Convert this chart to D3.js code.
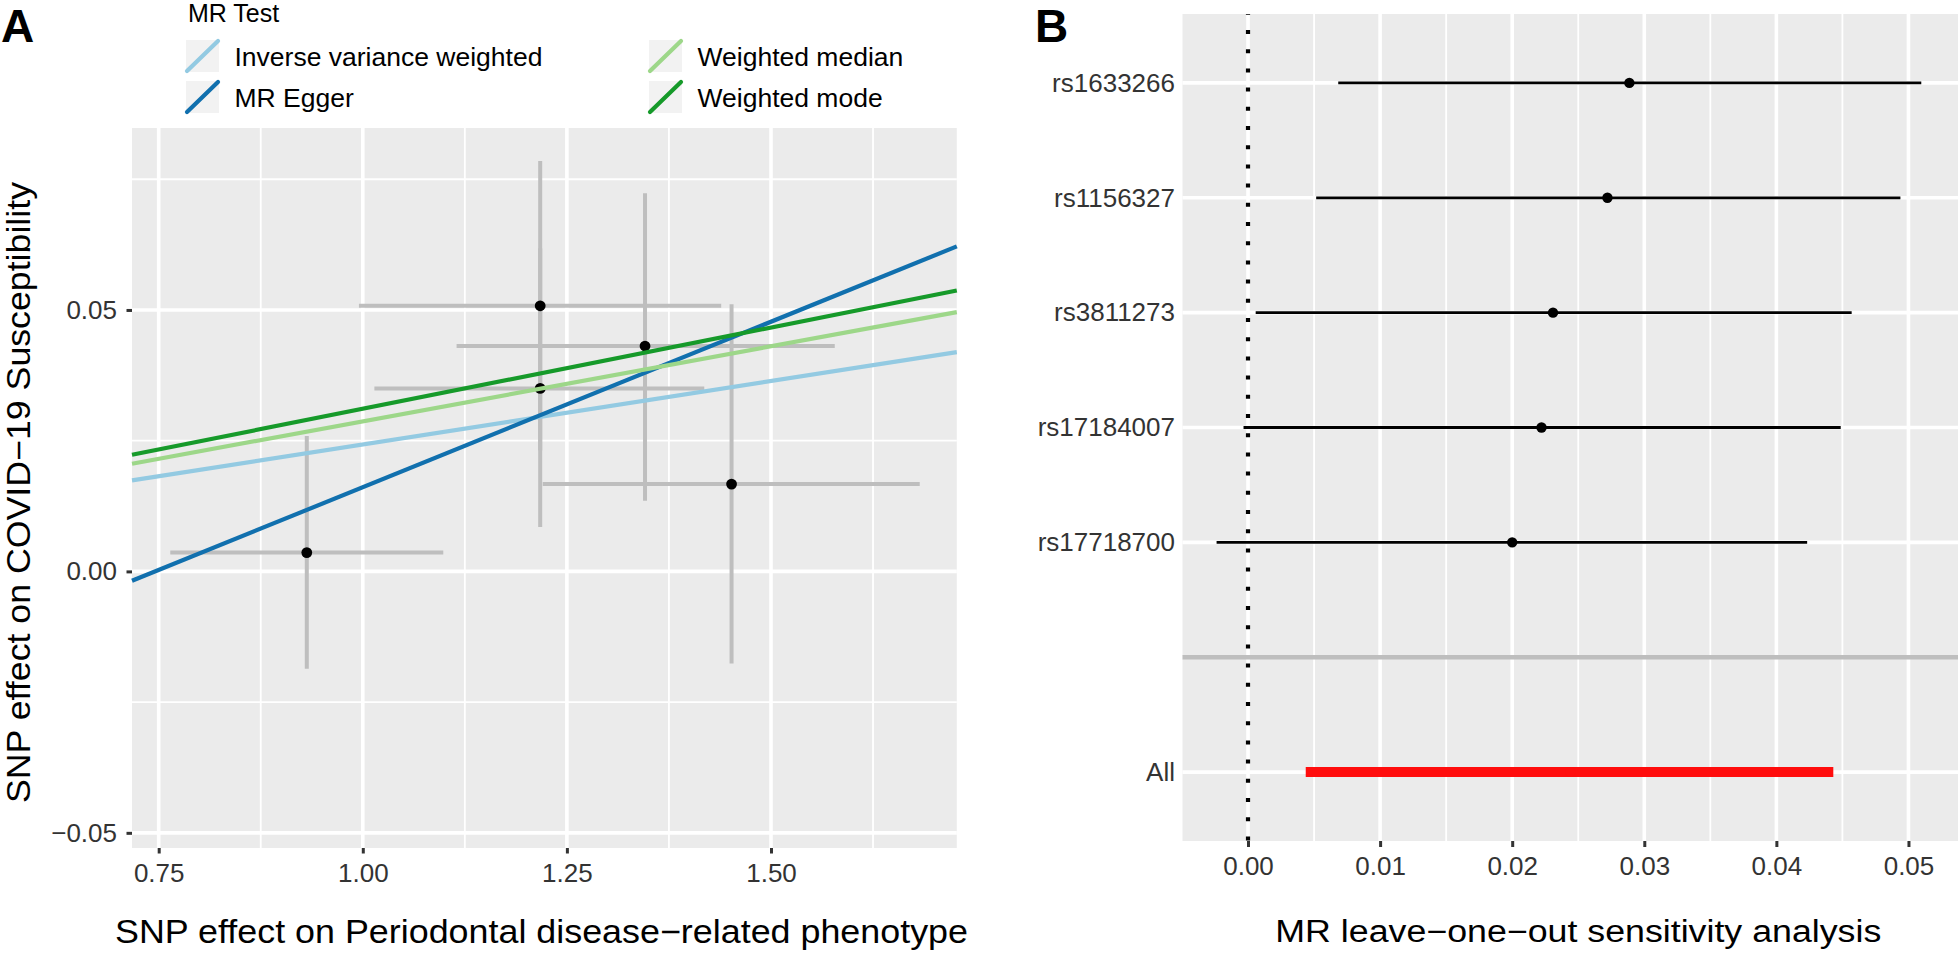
<!DOCTYPE html>
<html>
<head>
<meta charset="utf-8">
<script src="https://cdn.jsdelivr.net/npm/d3@7"></script>
<style>
  html, body { margin: 0; padding: 0; background: #ffffff; }
  svg { display: block; font-family: "Liberation Sans", Arial, Helvetica, sans-serif; }
</style>
</head>
<body>
<svg id="chart" width="1958" height="954"></svg>
<script>
// ---------------- Panel A data (MR scatter) ----------------
const snpBx     = [0.9314, 1.2173, 1.2173, 1.3457, 1.4517];
const snpBxLo   = [0.7642, 0.9953, 1.0142, 1.1149, 1.2204];
const snpBxHi   = [1.0986, 1.4390, 1.4183, 1.5781, 1.6822];
const snpBy     = [0.0036, 0.0508, 0.0350, 0.0431, 0.0167];
const snpByLo   = [-0.0186, 0.0231, 0.0085, 0.0135, -0.0176];
const snpByHi   = [0.0259, 0.0785, 0.0618, 0.0723, 0.0511];

const methods    = ["Inverse variance weighted", "MR Egger", "Weighted median", "Weighted mode"];
const slopes     = [0.02428, 0.0633, 0.0287, 0.0311];
const intercepts = [0, -0.0472, 0, 0];
const methodColors = ["#93cae2", "#1170ae", "#9dd789", "#169a2a"];

const xTicksA = [0.75, 1.00, 1.25, 1.50];
const xTickLabelsA = ["0.75", "1.00", "1.25", "1.50"];
const xMinorA = [0.875, 1.125, 1.375, 1.625];
const yTicksA = [-0.05, 0.00, 0.05];
const yTickLabelsA = ["\u22120.05", "0.00", "0.05"];
const yMinorA = [-0.025, 0.025, 0.075];

// ---------------- Panel B data (leave-one-out) ----------------
const looSnps = ["rs1633266", "rs1156327", "rs3811273", "rs17184007", "rs17718700", "", "All"];
const looB    = [0.02887, 0.02721, 0.02309, 0.02222, 0.02000, null, 0.02440];
const looLo   = [0.00683, 0.00516, 0.00058, -0.00034, -0.00238, null, 0.00437];
const looHi   = [0.05097, 0.04939, 0.04570, 0.04487, 0.04233, null, 0.04431];

const xTicksB = [0.00, 0.01, 0.02, 0.03, 0.04, 0.05];
const xTickLabelsB = ["0.00", "0.01", "0.02", "0.03", "0.04", "0.05"];
const xMinorB = [0.005, 0.015, 0.025, 0.035, 0.045];

// ---------------- Drawing ----------------
const svg = d3.select("#chart");
svg.append("rect").attr("width", 1958).attr("height", 954).attr("fill", "#ffffff");

const PANEL_BG = "#ebebeb";
const GRID = "#ffffff";

// ===== Panel A =====
const A = { left: 132, right: 956.8, top: 128, bottom: 848 };
const xA = d3.scaleLinear().domain([0.7173, 1.7276]).range([A.left, A.right]);
const yA = d3.scaleLinear().domain([-0.0529, 0.0848]).range([A.bottom, A.top]);

const gA = svg.append("g");
gA.append("rect").attr("x", A.left).attr("y", A.top)
  .attr("width", A.right - A.left).attr("height", A.bottom - A.top).attr("fill", PANEL_BG);

gA.selectAll(".xminA").data(xMinorA).enter().append("line")
  .attr("x1", d => xA(d)).attr("x2", d => xA(d)).attr("y1", A.top).attr("y2", A.bottom)
  .attr("stroke", GRID).attr("stroke-width", 1.8);
gA.selectAll(".yminA").data(yMinorA).enter().append("line")
  .attr("x1", A.left).attr("x2", A.right).attr("y1", d => yA(d)).attr("y2", d => yA(d))
  .attr("stroke", GRID).attr("stroke-width", 1.8);
gA.selectAll(".xmajA").data(xTicksA).enter().append("line")
  .attr("x1", d => xA(d)).attr("x2", d => xA(d)).attr("y1", A.top).attr("y2", A.bottom)
  .attr("stroke", GRID).attr("stroke-width", 3.6);
gA.selectAll(".ymajA").data(yTicksA).enter().append("line")
  .attr("x1", A.left).attr("x2", A.right).attr("y1", d => yA(d)).attr("y2", d => yA(d))
  .attr("stroke", GRID).attr("stroke-width", 3.6);

const idx = d3.range(snpBx.length);
// vertical error bars
gA.selectAll(".ebv").data(idx).enter().append("line")
  .attr("x1", i => xA(snpBx[i])).attr("x2", i => xA(snpBx[i]))
  .attr("y1", i => yA(snpByLo[i])).attr("y2", i => yA(snpByHi[i]))
  .attr("stroke", "#bebebe").attr("stroke-width", 4);
// horizontal error bars
gA.selectAll(".ebh").data(idx).enter().append("line")
  .attr("x1", i => xA(snpBxLo[i])).attr("x2", i => xA(snpBxHi[i]))
  .attr("y1", i => yA(snpBy[i])).attr("y2", i => yA(snpBy[i]))
  .attr("stroke", "#bebebe").attr("stroke-width", 4);
// points
gA.selectAll(".ptA").data(idx).enter().append("circle")
  .attr("cx", i => xA(snpBx[i])).attr("cy", i => yA(snpBy[i])).attr("r", 5.4)
  .attr("fill", "#000000");
// MR lines
const xd = xA.domain();
gA.selectAll(".mrline").data(d3.range(methods.length)).enter().append("line")
  .attr("x1", xA(xd[0])).attr("x2", xA(xd[1]))
  .attr("y1", i => yA(intercepts[i] + slopes[i] * xd[0]))
  .attr("y2", i => yA(intercepts[i] + slopes[i] * xd[1]))
  .attr("stroke", i => methodColors[i]).attr("stroke-width", 4.2);

// axes A
const axA_x = d3.axisBottom(xA).tickValues(xTicksA).tickFormat((d, i) => xTickLabelsA[i])
  .tickSize(5.5).tickPadding(10);
const gAx = gA.append("g").attr("transform", `translate(0,${A.bottom})`).call(axA_x);
const axA_y = d3.axisLeft(yA).tickValues(yTicksA).tickFormat((d, i) => yTickLabelsA[i])
  .tickSize(5.5).tickPadding(9.5);
const gAy = gA.append("g").attr("transform", `translate(${A.left},0)`).call(axA_y);

[gAx, gAy].forEach(g => {
  g.select(".domain").remove();
  g.selectAll(".tick line").attr("stroke", "#333333").attr("stroke-width", 3);
  g.selectAll(".tick text").attr("fill", "#333333").style("font-size", "26px")
    .style("font-family", '"Liberation Sans", Arial, sans-serif');
});

// axis titles A
svg.append("text").attr("x", 541.5).attr("y", 943).attr("text-anchor", "middle")
  .style("font-size", "33px").attr("fill", "#000")
  .attr("textLength", 853).attr("lengthAdjust", "spacingAndGlyphs")
  .text("SNP effect on Periodontal disease\u2212related phenotype");
svg.append("text").attr("transform", "translate(29.5,492.5) rotate(-90)")
  .attr("text-anchor", "middle").style("font-size", "33px").attr("fill", "#000")
  .attr("textLength", 621).attr("lengthAdjust", "spacingAndGlyphs")
  .text("SNP effect on COVID\u221219 Susceptibility");

// legend A
const lg = svg.append("g");
lg.append("text").attr("x", 188).attr("y", 22).style("font-size", "25px").attr("fill", "#000").text("MR Test");
const legendCols = [186, 649];
const legendRows = [40, 81];
const keyW = 33, keyH = 32;
methods.forEach((m, i) => {
  const col = Math.floor(i / 2), row = i % 2;
  const kx = legendCols[col], ky = legendRows[row];
  lg.append("rect").attr("x", kx).attr("y", ky).attr("width", keyW).attr("height", keyH).attr("fill", "#f2f2f2");
  lg.append("line").attr("x1", kx + 1).attr("y1", ky + keyH - 1).attr("x2", kx + keyW - 1).attr("y2", ky + 1)
    .attr("stroke", methodColors[i]).attr("stroke-width", 4.2).attr("stroke-linecap", "round");
  lg.append("text").attr("x", kx + keyW + 15.5).attr("y", ky + keyH / 2 + 9.5)
    .style("font-size", "26.5px").attr("fill", "#000").text(m);
});

// panel label A
svg.append("text").attr("x", 1).attr("y", 41.5).style("font-size", "46px").style("font-weight", "bold")
  .attr("fill", "#000").text("A");

// ===== Panel B =====
const B = { left: 1182.5, right: 1958, top: 14, bottom: 841 };
const xB = d3.scaleLinear().domain([-0.00496, 0.05375]).range([B.left, B.right]);
const yB = d3.scalePoint().domain(looSnps).range([B.top, B.bottom]).padding(0.6);

const gB = svg.append("g");
gB.append("rect").attr("x", B.left).attr("y", B.top)
  .attr("width", B.right - B.left).attr("height", B.bottom - B.top).attr("fill", PANEL_BG);
gB.selectAll(".xminB").data(xMinorB).enter().append("line")
  .attr("x1", d => xB(d)).attr("x2", d => xB(d)).attr("y1", B.top).attr("y2", B.bottom)
  .attr("stroke", GRID).attr("stroke-width", 1.8);
gB.selectAll(".xmajB").data(xTicksB).enter().append("line")
  .attr("x1", d => xB(d)).attr("x2", d => xB(d)).attr("y1", B.top).attr("y2", B.bottom)
  .attr("stroke", GRID).attr("stroke-width", 3.6);
gB.selectAll(".ymajB").data(looSnps).enter().append("line")
  .attr("x1", B.left).attr("x2", B.right).attr("y1", d => yB(d)).attr("y2", d => yB(d))
  .attr("stroke", GRID).attr("stroke-width", 3.6);

// dotted zero line
gB.append("line").attr("x1", xB(0)).attr("x2", xB(0)).attr("y1", B.top).attr("y2", B.bottom)
  .attr("stroke", "#000").attr("stroke-width", 4.2)
  .attr("stroke-dasharray", "4 15.2").attr("stroke-dashoffset", 3.2);

const rows = d3.range(looSnps.length).filter(i => looB[i] !== null);
gB.selectAll(".ebB").data(rows).enter().append("line")
  .attr("x1", i => xB(looLo[i])).attr("x2", i => xB(looHi[i]))
  .attr("y1", i => yB(looSnps[i])).attr("y2", i => yB(looSnps[i]))
  .attr("stroke", i => looSnps[i] === "All" ? "#ff0d0d" : "#000000")
  .attr("stroke-width", i => looSnps[i] === "All" ? 10 : 2.8);
gB.selectAll(".ptB").data(rows).enter().append("circle")
  .attr("cx", i => xB(looB[i])).attr("cy", i => yB(looSnps[i]))
  .attr("r", i => looSnps[i] === "All" ? 5 : 5.2)
  .attr("fill", i => looSnps[i] === "All" ? "#ff0d0d" : "#000000");

// grey separator line at the blank level
gB.append("line").attr("x1", B.left).attr("x2", B.right)
  .attr("y1", yB("")).attr("y2", yB(""))
  .attr("stroke", "#bebebe").attr("stroke-width", 4.5);

// axes B
const axB_x = d3.axisBottom(xB).tickValues(xTicksB).tickFormat((d, i) => xTickLabelsB[i])
  .tickSize(6).tickPadding(10);
const gBx = gB.append("g").attr("transform", `translate(0,${B.bottom})`).call(axB_x);
const axB_y = d3.axisLeft(yB).tickSize(0).tickPadding(7.5);
const gBy = gB.append("g").attr("transform", `translate(${B.left},0)`).call(axB_y);
[gBx, gBy].forEach(g => {
  g.select(".domain").remove();
  g.selectAll(".tick line").attr("stroke", "#333333").attr("stroke-width", 3);
  g.selectAll(".tick text").attr("fill", "#333333").style("font-size", "26px")
    .style("font-family", '"Liberation Sans", Arial, sans-serif');
});

svg.append("text").attr("x", 1578.3).attr("y", 942).attr("text-anchor", "middle")
  .style("font-size", "31px").attr("fill", "#000")
  .attr("textLength", 606).attr("lengthAdjust", "spacingAndGlyphs")
  .text("MR leave\u2212one\u2212out sensitivity analysis");

svg.append("text").attr("x", 1035).attr("y", 41.5).style("font-size", "46px").style("font-weight", "bold")
  .attr("fill", "#000").text("B");
</script>
</body>
</html>
